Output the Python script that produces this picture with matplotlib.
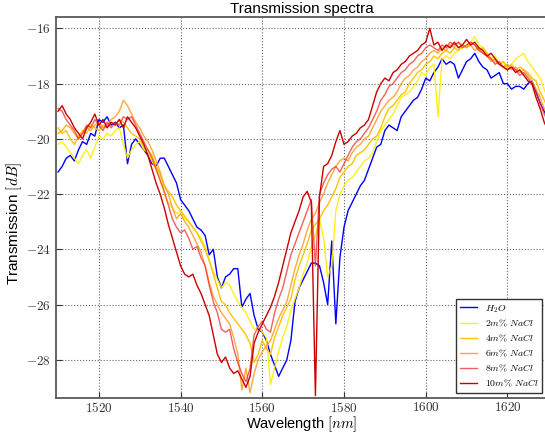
import matplotlib
matplotlib.use("Agg")
import matplotlib.pyplot as plt
from matplotlib.ticker import FuncFormatter

plt.rcParams['font.family'] = ['Liberation Sans', 'DejaVu Sans']
plt.rcParams['mathtext.fontset'] = 'cm'

# wavelength grid (nm), 1510 ... 1630
wavelength = list(range(1510, 1631))

h2o = [
    -21.2, -21.0, -20.7, -20.6, -20.8, -20.4, -20.1, -20.2, -19.8, -19.9,
    -19.3, -19.4, -19.2, -19.5, -19.4, -19.6, -19.5, -20.9, -20.2, -20.0,
    -20.2, -20.4, -20.6, -20.9, -21.0, -20.7, -20.7, -21.0, -21.3, -21.6,
    -22.2, -22.4, -22.6, -22.9, -23.2, -23.3, -23.5, -24.2, -24.0, -25.0,
    -25.4, -25.0, -24.9, -24.7, -24.7, -26.1, -25.8, -25.6, -26.4, -26.9,
    -27.0, -27.3, -27.8, -28.2, -28.6, -28.3, -28.0, -27.3, -25.9, -25.4,
    -25.1, -24.8, -24.5, -24.5, -24.6, -25.2, -26.0, -23.7, -26.7, -24.3,
    -23.2, -22.6, -22.3, -22.0, -21.7, -21.5, -21.1, -20.7, -20.3, -20.2,
    -19.7, -19.5, -19.6, -19.7, -19.2, -19.0, -18.8, -18.6, -18.5, -18.2,
    -17.8, -17.9, -17.6, -17.4, -17.1, -17.3, -17.2, -17.3, -17.8, -17.5,
    -17.2, -17.1, -16.9, -17.2, -17.4, -17.5, -17.8, -17.7, -17.6, -18.0,
    -18.0, -18.2, -18.1, -18.1, -18.2, -18.0, -17.9, -18.3, -18.7, -19.0,
    -19.3]

nacl_2 = [
    -20.2, -20.1, -20.3, -20.5, -20.7, -20.9, -20.6, -20.4, -20.7, -20.3,
    -19.9, -20.0, -19.8, -19.9, -19.7, -19.6, -20.2, -20.7, -20.4, -20.2,
    -20.1, -20.4, -20.5, -20.8, -21.1, -21.5, -22.0, -22.3, -22.5, -22.7,
    -22.6, -22.9, -23.0, -23.2, -23.4, -23.6, -23.9, -24.4, -24.8, -25.1,
    -25.4, -25.2, -25.3, -25.6, -25.9, -26.1, -26.3, -26.6, -26.9, -26.8,
    -27.0, -27.2, -28.9, -28.3, -27.7, -27.2, -26.8, -26.2, -25.8, -25.4,
    -24.9, -24.5, -23.9, -23.5, -22.9, -23.6, -25.0, -24.6, -22.6, -22.0,
    -21.7, -21.5, -21.4, -21.2, -21.0, -20.8, -20.7, -20.5, -20.1, -19.7,
    -19.5, -19.3, -19.1, -18.8, -18.5, -18.4, -18.3, -18.1, -17.9, -17.6,
    -17.7, -17.4, -17.3, -19.2, -17.1, -17.0, -17.1, -16.9, -16.8, -16.7,
    -16.6, -16.5, -16.3, -16.6, -16.7, -16.9, -17.1, -17.0, -17.3, -17.2,
    -17.5, -17.3, -17.1, -17.0, -16.9, -17.2, -17.4, -17.6, -17.8, -18.2,
    -18.6]

nacl_4 = [
    -19.6, -19.8, -19.7, -20.0, -20.2, -19.9, -19.7, -19.8, -19.5, -19.6,
    -19.7, -19.5, -19.6, -19.4, -19.5, -19.3, -19.4, -19.6, -19.8, -19.9,
    -20.0, -20.3, -20.4, -20.6, -21.0, -21.3, -21.7, -21.9, -22.1, -22.4,
    -22.6, -22.8, -23.0, -23.2, -23.4, -23.7, -24.0, -24.4, -24.9, -25.4,
    -25.9, -26.0, -26.3, -26.5, -26.7, -26.9, -27.1, -27.4, -28.1, -27.8,
    -27.3, -27.6, -27.8, -27.2, -26.8, -26.4, -26.1, -25.8, -25.1, -24.6,
    -24.2, -23.8, -23.3, -23.1, -22.9, -22.6, -22.4, -22.1, -21.8, -21.4,
    -21.2, -21.0, -20.9, -20.6, -20.5, -20.4, -20.2, -20.0, -19.9, -19.6,
    -19.2, -18.9, -18.8, -18.6, -18.4, -18.3, -18.0, -17.8, -17.6, -17.5,
    -17.3, -17.2, -17.0, -17.1, -16.9, -16.8, -16.9, -16.7, -16.8, -16.6,
    -16.7, -16.5, -16.6, -16.8, -16.7, -16.9, -17.1, -17.2, -17.3, -17.2,
    -17.4, -17.3, -17.5, -17.4, -17.5, -17.6, -17.8, -17.9, -18.3, -18.6,
    -18.9]

nacl_6 = [
    -19.8, -19.7, -19.5, -19.6, -19.8, -20.0, -19.8, -19.6, -19.7, -19.5,
    -19.4, -19.6, -19.5, -19.3, -19.2, -19.0, -18.6, -18.8, -19.1, -19.4,
    -19.6, -19.9, -20.1, -20.4, -20.8, -21.2, -21.7, -22.0, -22.5, -22.9,
    -22.7, -23.0, -23.2, -23.5, -23.8, -24.1, -24.6, -25.2, -25.7, -26.0,
    -26.3, -26.5, -26.7, -27.2, -27.8, -29.1, -28.3, -29.2, -28.5, -28.0,
    -27.7, -27.5, -27.3, -26.9, -26.5, -26.2, -25.9, -25.3, -24.7, -24.2,
    -23.8, -23.3, -22.9, -22.7, -22.3, -22.0, -21.6, -21.3, -21.0, -20.8,
    -20.7, -20.8, -20.5, -20.3, -20.2, -20.0, -19.9, -19.6, -19.3, -19.0,
    -18.8, -18.6, -18.5, -18.3, -18.0, -17.8, -17.7, -17.5, -17.4, -17.2,
    -17.1, -16.9, -16.8, -16.9, -16.7, -16.8, -16.6, -16.7, -16.5, -16.6,
    -16.7, -16.6, -16.8, -16.7, -16.9, -17.0, -17.2, -17.1, -17.3, -17.4,
    -17.3, -17.5, -17.4, -17.6, -17.5, -17.7, -17.9, -18.2, -18.5, -18.9,
    -19.2]

nacl_8 = [
    -18.9, -19.0, -19.3, -19.5, -19.7, -20.0, -19.8, -19.5, -19.6, -19.3,
    -19.5, -19.7, -19.4, -19.6, -19.4, -19.5, -19.2, -19.3, -19.2, -19.5,
    -19.8, -20.1, -20.4, -20.7, -21.1, -21.5, -21.9, -22.4, -22.9, -23.2,
    -23.4, -23.3, -23.6, -24.0, -23.9, -24.3, -24.6, -25.3, -25.9, -26.3,
    -26.9, -27.0, -26.9, -27.6, -28.1, -28.5, -28.8, -28.3, -27.1, -26.8,
    -26.6, -26.9, -27.0, -26.3, -25.8, -25.4, -24.8, -24.2, -23.8, -23.4,
    -23.0, -22.6, -22.2, -24.6, -22.0, -21.6, -21.3, -21.1, -21.0, -21.2,
    -20.9, -20.6, -20.3, -20.1, -20.0, -19.8, -19.6, -19.3, -19.0, -18.6,
    -18.4, -18.1, -18.0, -17.8, -17.6, -17.5, -17.3, -17.2, -17.0, -16.9,
    -16.7, -16.6, -16.7, -16.8, -16.6, -16.7, -16.5, -16.6, -16.5, -16.7,
    -16.6, -16.5, -16.6, -16.8, -16.9, -17.0, -17.1, -17.3, -17.2, -17.4,
    -17.5, -17.4, -17.5, -17.7, -17.6, -17.8, -18.0, -18.3, -18.7, -19.1,
    -19.4]

nacl_10 = [
    -19.0, -18.8, -19.1, -19.3, -19.6, -19.8, -20.0, -19.6, -19.4, -19.1,
    -19.5, -19.3, -19.6, -19.4, -19.5, -19.3, -19.6, -19.2, -19.4, -19.6,
    -19.9, -20.2, -20.6, -21.1, -21.6, -22.0, -22.5, -23.1, -23.6, -24.1,
    -24.6, -24.9, -25.0, -24.9, -25.3, -25.6, -26.0, -26.4, -27.1, -27.8,
    -28.1, -27.9, -28.3, -28.5, -28.4, -28.7, -29.0, -28.6, -27.4, -27.0,
    -26.7, -26.4, -26.1, -25.7, -25.2, -24.6, -24.0, -23.4, -23.0, -22.6,
    -22.1, -21.9, -22.3, -29.3, -22.1, -21.0, -20.9, -20.6, -20.1, -19.7,
    -20.2, -20.1, -19.9, -19.8, -19.6, -19.5, -19.3, -18.8, -18.3, -18.0,
    -17.8, -17.9, -17.6, -17.5, -17.3, -17.2, -17.0, -16.9, -16.8, -16.6,
    -16.5, -16.0, -16.6, -16.5, -16.8, -16.6, -16.7, -16.5, -16.7, -16.6,
    -16.4, -16.6, -16.5, -16.7, -16.8, -17.0, -16.9, -17.1, -17.3, -17.4,
    -17.5, -17.4, -17.6, -17.5, -17.7, -17.9, -18.0, -18.5, -18.9, -19.4,
    -19.7]

labels = [r'$H_2O$', r'$2m\%\ NaCl$', r'$4m\%\ NaCl$',
          r'$6m\%\ NaCl$', r'$8m\%\ NaCl$', r'$10m\%\ NaCl$']
series = [h2o, nacl_2, nacl_4, nacl_6, nacl_8, nacl_10]
colors = ['#0000ff', '#ffee00', '#ffc400', '#ff9a1a', '#ee2a2a', '#cc0000']
alphas = [1.0, 0.9, 1.0, 0.85, 0.75, 1.0]

fig = plt.figure(figsize=(5.45, 4.34), dpi=100)
ax = fig.add_axes([0.102, 0.082, 0.904, 0.878])

for y, lab, c, a in zip(series, labels, colors, alphas):
    ax.plot(wavelength, y, color=c, alpha=a, lw=1.0, label=lab)

ax.set_xlim(1509.4, 1630)
ax.set_ylim(-29.4, -15.6)
ax.set_xticks([1520, 1540, 1560, 1580, 1600, 1620])
ax.set_yticks([-16, -18, -20, -22, -24, -26, -28])
fmt = FuncFormatter(lambda v, p: r'$%d$' % v)
ax.xaxis.set_major_formatter(fmt)
ax.yaxis.set_major_formatter(fmt)
ax.tick_params(direction='in', length=4, labelsize=9.5, colors='0.2')
ax.tick_params(axis='x', pad=2)
ax.grid(True, linestyle=':', color='0.4', lw=0.8)
for s in ax.spines.values():
    s.set_color('0.35')
    s.set_linewidth(1.3)

ax.set_title('Transmission spectra', fontsize=11, pad=3)
ax.set_xlabel(r'Wavelength $[nm]$', fontsize=10.5)
ax.set_ylabel(r'Transmission $[dB]$', fontsize=11)
ax.xaxis.set_label_coords(0.5, -0.041)
ax.yaxis.set_label_coords(-0.064, 0.46)

leg = ax.legend(loc='lower right', bbox_to_anchor=(542 / 545, 41 / 434),
                bbox_transform=fig.transFigure, borderaxespad=0,
                fontsize=7, fancybox=False, edgecolor='0.2',
                handlelength=1.7, labelspacing=0.38, framealpha=1)
leg.get_frame().set_linewidth(1.0)

plt.savefig('out.png', dpi=100)
